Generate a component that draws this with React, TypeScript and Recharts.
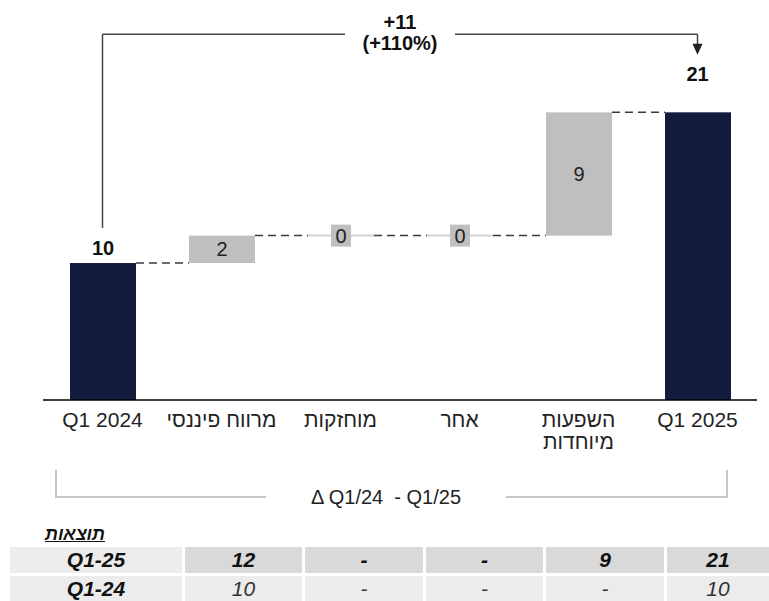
import React from 'react';
import { ComposedChart, Bar, XAxis, YAxis, LabelList, ReferenceLine, ReferenceDot, Label } from 'recharts';

// ---------- data ----------
const categories = ['Q1 2024', 'מרווח פיננסי', 'מוחזקות', 'אחר', 'השפעות\nמיוחדות', 'Q1 2025'];
const values = [10, 2, 0, 0, 9, 21];
const isTotal = [true, false, false, false, false, true];

const changeLabel = '+11';
const changePctLabel = '(+110%)';
const periodLabel = 'Δ Q1/24  - Q1/25';

const tableTitle = 'תוצאות';
const rowLabels = ['Q1-25', 'Q1-24'];
const q125Values = ['12', '-', '-', '9', '21'];
const q124Values = ['10', '-', '-', '-', '10'];

// ---------- build waterfall table ----------
const chartData = (() => {
  let running = 0;
  return categories.map((name, i) => {
    let base = 0;
    if (isTotal[i]) {
      base = 0;
      running = values[i];
    } else {
      base = running;
      running = running + values[i];
    }
    return { name, base, value: values[i], end: running };
  });
})();

// ---------- layout constants ----------
const W = 769;
const H = 601;
const MARGIN = { top: 0, right: 12, bottom: 141, left: 43 };
const XAXIS_H = 60;
const BAR_SIZE = 66;
const BAND = (W - MARGIN.left - MARGIN.right) / categories.length;
const Y_MAX = 29.2;
const BRACKET_LEVEL = 26.7;
const BRACKET_START = 12.55;
const ARROW_TIP = 25.2;

const NAVY = '#131c3d';
const GRAY = '#bfbfbf';
const FONT = '"Liberation Sans", Arial, sans-serif';

function WaterfallShape(props: any) {
  const { x, y, width, height, index } = props;
  const total = isTotal[index];
  const gap = BAND - width;
  const h = Math.abs(height || 0);
  const top = height < 0 ? y + height : y;
  return (
    <g>
      {h > 0.5 ? (
        <rect x={x} y={top} width={width} height={h} fill={total ? NAVY : GRAY} />
      ) : (
        <line x1={x} x2={x + width} y1={y} y2={y} stroke="#d4d4d4" strokeWidth={2} />
      )}
      {index < categories.length - 1 && (
        <line
          x1={x + width}
          x2={x + width + gap}
          y1={top}
          y2={top}
          stroke="#3a3a3a"
          strokeWidth={1.5}
          strokeDasharray="8 5"
        />
      )}
    </g>
  );
}

function ValueLabel(props: any) {
  const { x, y, width, height, index, value } = props;
  const cx = Number(x) + Number(width) / 2;
  const top = Number(height) < 0 ? Number(y) + Number(height) : Number(y);
  const h = Math.abs(Number(height) || 0);
  if (isTotal[index]) {
    if (index === categories.length - 1) return null;
    return (
      <text x={cx} y={top - 8} textAnchor="middle" fontFamily={FONT} fontWeight="bold" fontSize={20} fill="#111">
        {value}
      </text>
    );
  }
  if (h > 0.5) {
    return (
      <text x={cx} y={top + h / 2 + 7} textAnchor="middle" fontFamily={FONT} fontSize={20} fill="#222">
        {value}
      </text>
    );
  }
  return (
    <g>
      <rect x={cx - 10} y={top - 11} width={20} height={22} fill={GRAY} />
      <text x={cx} y={top + 7} textAnchor="middle" fontFamily={FONT} fontSize={20} fill="#222">
        {value}
      </text>
    </g>
  );
}

function CategoryTick(props: any) {
  const { x, y, payload } = props;
  const lines = String(payload.value).split('\n');
  return (
    <text x={x} y={y} textAnchor="middle" fontFamily={FONT} fontSize={21} fill="#222">
      {lines.map((l, i) => (
        <tspan key={i} x={x} dy={i === 0 ? 27 : 22}>
          {l}
        </tspan>
      ))}
    </text>
  );
}

function ChangeLabel(props: any) {
  const vb = props.viewBox || {};
  const cx = (vb.x || 0) + (vb.width || 0) / 2;
  const cy = (vb.y || 0) + (vb.height || 0) / 2;
  return (
    <g>
      <rect x={cx - 55} y={cy - 26} width={110} height={48} fill="#fff" />
      <text x={cx} y={cy - 5} textAnchor="middle" fontFamily={FONT} fontWeight="bold" fontSize={20} fill="#111">
        {changeLabel}
      </text>
      <text x={cx} y={cy + 16} textAnchor="middle" fontFamily={FONT} fontWeight="bold" fontSize={20} fill="#111">
        {changePctLabel}
      </text>
    </g>
  );
}

function ArrowHead(props: any) {
  const { cx, cy } = props;
  const last = chartData[chartData.length - 1];
  return (
    <g>
      <path d={`M ${cx - 5} ${cy - 11} L ${cx + 5} ${cy - 11} L ${cx} ${cy} Z`} fill="#222" />
      <text x={cx} y={cy + 26} textAnchor="middle" fontFamily={FONT} fontWeight="bold" fontSize={20} fill="#111">
        {last.value}
      </text>
    </g>
  );
}

const cellBase: React.CSSProperties = {
  position: 'absolute',
  display: 'flex',
  alignItems: 'center',
  justifyContent: 'center',
  fontFamily: FONT,
  fontSize: 21,
  fontStyle: 'italic',
};

const colLefts = [10, 185, 305, 426, 546, 667];
const colWidths = [172, 117, 118, 117, 118, 102];

export default function App() {
  const first = categories[0];
  const lastCat = categories[categories.length - 1];
  return (
    <div style={{ position: 'relative', width: W, height: H, background: '#fff', overflow: 'hidden' }}>
      <style>{'body{margin:0;}'}</style>
      <ComposedChart width={W} height={H} data={chartData} margin={MARGIN} barSize={BAR_SIZE}>
        <XAxis
          dataKey="name"
          interval={0}
          height={XAXIS_H}
          tickLine={false}
          tickSize={0}
          tickMargin={0}
          axisLine={{ stroke: '#000', strokeWidth: 1.5 }}
          tick={<CategoryTick />}
        />
        <YAxis hide domain={[0, Y_MAX]} allowDataOverflow />
        <Bar dataKey="base" stackId="w" fill="transparent" isAnimationActive={false} />
        <Bar dataKey="value" stackId="w" shape={<WaterfallShape />} isAnimationActive={false}>
          <LabelList dataKey="value" content={<ValueLabel />} />
        </Bar>
        <ReferenceLine
          segment={[
            { x: first, y: BRACKET_START },
            { x: first, y: BRACKET_LEVEL },
          ]}
          stroke="#444"
          strokeWidth={1.5}
          ifOverflow="visible"
        />
        <ReferenceLine
          segment={[
            { x: first, y: BRACKET_LEVEL },
            { x: lastCat, y: BRACKET_LEVEL },
          ]}
          stroke="#444"
          strokeWidth={1.5}
          ifOverflow="visible"
        >
          <Label position="center" content={<ChangeLabel />} />
        </ReferenceLine>
        <ReferenceLine
          segment={[
            { x: lastCat, y: BRACKET_LEVEL },
            { x: lastCat, y: ARROW_TIP + 0.6 },
          ]}
          stroke="#444"
          strokeWidth={1.5}
          ifOverflow="visible"
        />
        <ReferenceDot x={lastCat} y={ARROW_TIP} ifOverflow="visible" shape={<ArrowHead />} />
      </ComposedChart>

      {/* bottom period bracket */}
      <div
        style={{
          position: 'absolute',
          left: 55,
          top: 470,
          width: 669,
          height: 26,
          borderLeft: '2px solid #c6c6c6',
          borderRight: '2px solid #c6c6c6',
          borderBottom: '2px solid #c6c6c6',
        }}
      />
      <div
        style={{
          position: 'absolute',
          left: 266,
          top: 485,
          width: 240,
          height: 24,
          background: '#fff',
          fontFamily: FONT,
          fontSize: 20,
          color: '#222',
          textAlign: 'center',
          lineHeight: '24px',
          whiteSpace: 'pre',
        }}
      >
        {periodLabel}
      </div>

      {/* results table */}
      <div
        style={{
          position: 'absolute',
          left: 45,
          top: 524,
          fontFamily: FONT,
          fontSize: 18,
          fontWeight: 'bold',
          fontStyle: 'italic',
          textDecoration: 'underline',
          direction: 'rtl',
          color: '#111',
        }}
      >
        {tableTitle}
      </div>
      {[q125Values, q124Values].map((row, r) => {
        const top = r === 0 ? 547 : 576;
        const height = r === 0 ? 26 : 25;
        return (
          <React.Fragment key={r}>
            <div
              style={{
                ...cellBase,
                left: colLefts[0],
                width: colWidths[0],
                top,
                height,
                background: '#ececec',
                fontWeight: 'bold',
                color: '#111',
              }}
            >
              {rowLabels[r]}
            </div>
            {row.map((v, c) => (
              <div
                key={c}
                style={{
                  ...cellBase,
                  left: colLefts[c + 1],
                  width: colWidths[c + 1],
                  top,
                  height,
                  background: r === 0 ? '#d9d9d9' : '#ececec',
                  fontWeight: r === 0 ? 'bold' : 'normal',
                  color: r === 0 ? '#111' : '#333',
                }}
              >
                {v}
              </div>
            ))}
          </React.Fragment>
        );
      })}
    </div>
  );
}
